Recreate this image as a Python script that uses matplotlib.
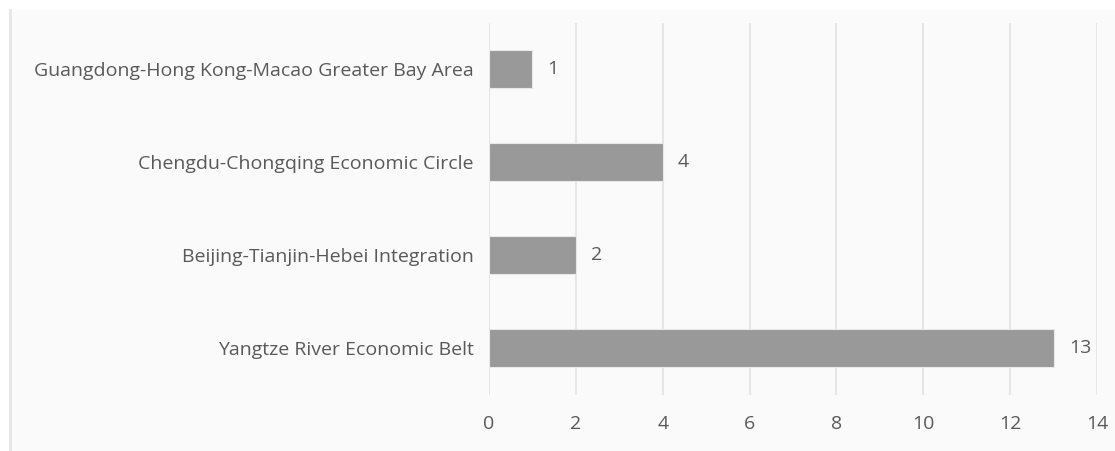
import matplotlib
matplotlib.use("Agg")
import matplotlib.pyplot as plt
from matplotlib.patches import Rectangle
from matplotlib.lines import Line2D

# data (bottom to top)
regions = ["Yangtze River Economic Belt",
           "Beijing-Tianjin-Hebei Integration",
           "Chengdu-Chongqing Economic Circle",
           "Guangdong-Hong Kong-Macao Greater Bay Area"]
counts = [13, 2, 4, 1]
xticks = [0, 2, 4, 6, 8, 10, 12, 14]

plt.rcParams['font.family'] = ['Open Sans', 'DejaVu Sans']
txt = "#595959"

fig = plt.figure(figsize=(11.15, 4.51), dpi=100, facecolor="white")

# chart area background, faint left border
fig.patches.append(Rectangle((9 / 1115, 0), 1.0, 1 - 10 / 451, transform=fig.transFigure,
                             facecolor="#FAFAFA", edgecolor="none", zorder=-2))
fig.lines.append(Line2D([9.5 / 1115, 9.5 / 1115], [0, 1 - 10 / 451], transform=fig.transFigure,
                        color="#E6E6E6", linewidth=2, zorder=-1))

ax = fig.add_axes([489 / 1115, 1 - 394.5 / 451, 608 / 1115, 372 / 451])
ax.set_facecolor("none")

ypos = list(range(len(regions)))
ax.barh(ypos, counts, height=0.4, color="#999999", edgecolor="#E8E8E8", linewidth=0.8, zorder=3)
for y, v in zip(ypos, counts):
    ax.text(v + 0.35, y, str(v), va="center", ha="left", fontsize=14, color=txt)

ax.set_xlim(0, 14)
ax.set_ylim(-0.5, len(regions) - 0.5)
ax.set_xticks(xticks)
ax.set_yticks(ypos)
ax.set_yticklabels(regions)
ax.grid(axis="x", color="#E6E6E6", linewidth=1.5, zorder=0)
ax.tick_params(axis="both", length=0, labelsize=14, labelcolor=txt)
ax.tick_params(axis="x", pad=15)
ax.tick_params(axis="y", pad=11)
for s in ax.spines.values():
    s.set_visible(False)

fig.savefig("out.png", dpi=100, facecolor=fig.get_facecolor())
